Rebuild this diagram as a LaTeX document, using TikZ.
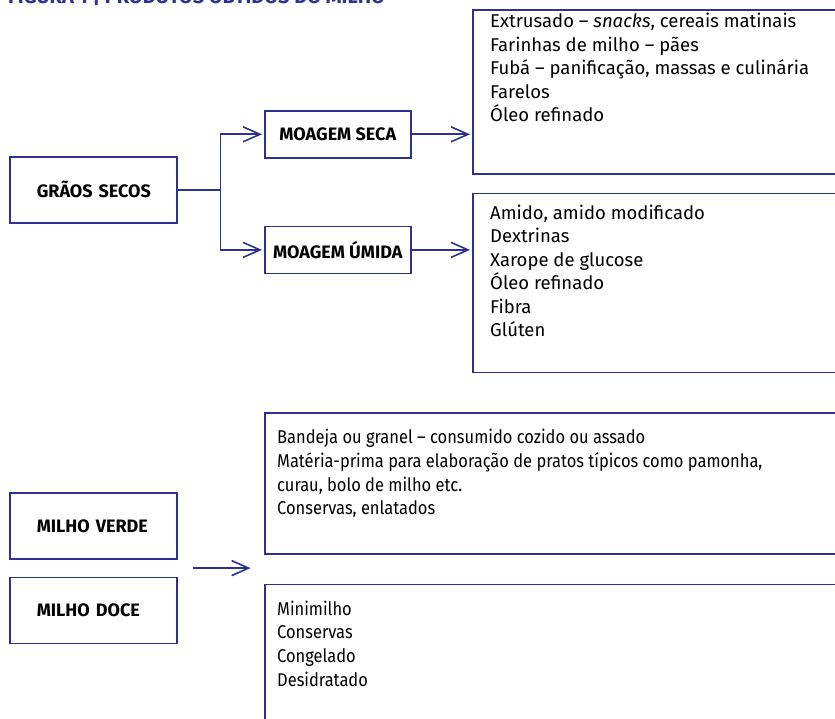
\documentclass[tikz,border=0pt]{standalone}
\usepackage{fontspec}
\setmainfont{Fira Sans}
\newfontfamily\narrowfont{Fira Sans}[FakeStretch=0.89, Ligatures=TeX]
\usetikzlibrary{arrows.meta, positioning, calc}
\definecolor{figblue}{RGB}{46,49,146}

\begin{document}
\begin{tikzpicture}[
  x=1pt, y=-1pt,
  box/.style={draw=figblue, line width=1.6pt, inner sep=0pt, minimum height=66pt, font=\fontsize{18}{21}\selectfont\bfseries},
  srcbox/.style={box, minimum width=167pt, text width=113pt, align=left},
  millbox/.style={box, minimum width=146pt, minimum height=47pt},
  outbox/.style={draw=figblue, line width=1.6pt, inner sep=0pt, minimum width=640pt},
  list/.style={font=\fontsize{18.5}{23.5}\selectfont, align=left, inner sep=0pt, anchor=north west},
  smalllist/.style={list, font=\narrowfont\fontsize{18.5}{23.7}\selectfont},
  arr/.style={draw=figblue, line width=1.6pt, -{Straight Barb[length=17pt, width=15pt, line width=1.6pt]}, shorten >=2pt},
  conn/.style={draw=figblue, line width=1.6pt}
]
  \useasboundingbox (0,0) rectangle (835,719);

  % Title (cut off at the top)
  \node[font=\fontsize{20}{24}\selectfont\bfseries, text=figblue, anchor=base west, inner sep=0pt] (title) at (8,4) {FIGURA 1 | PRODUTOS OBTIDOS DO MILHO};

  % Dry grain
  \node[srcbox, anchor=north west] (graos) at (9,156) {GRÃOS~SECOS};
  \node[millbox, anchor=north west] (seca) at (264,110) {MOAGEM SECA};
  \node[millbox, below=67pt of seca] (umida) {MOAGEM ÚMIDA};

  % Products of the mills
  \node[outbox, minimum height=164pt, anchor=north west] (secaout) at (472,9) {};
  \node[list] (secalist) at ($(secaout.north west)+(18,4)$) {Extrusado – \textit{snacks}, cereais matinais\\Farinhas de milho – pães\\Fubá – panificação, massas e culinária\\Farelos\\Óleo refinado};
  \node[outbox, minimum height=179pt, below=18pt of secaout.south west, anchor=north west] (umidaout) {};
  \node[list] (umidalist) at ($(umidaout.north west)+(18,12)$) {Amido, amido modificado\\Dextrinas\\Xarope de glucose\\Óleo refinado\\Fibra\\Glúten};

  % Fresh corn
  \node[srcbox, anchor=north west] (verde) at (9,492) {MILHO~VERDE};
  \node[srcbox, below=17pt of verde] (doce) {MILHO~DOCE};
  \node[outbox, minimum height=141pt, anchor=north west] (verdeout) at (264,412) {};
  \node[smalllist] (verdelist) at ($(verdeout.north west)+(13,17)$) {Bandeja ou granel – consumido cozido ou assado\\Matéria-prima para elaboração de pratos típicos como pamonha,\\curau, bolo de milho etc.\\Conservas, enlatados};
  \node[outbox, minimum height=160pt, below=29pt of verdeout.south west, anchor=north west] (doceout) {};
  \node[smalllist] (docelist) at ($(doceout.north west)+(13,17)$) {Minimilho\\Conservas\\Congelado\\Desidratado};

  % Arrows
  \draw[conn] (graos.east) -- ++(43,0) coordinate (split);
  \draw[arr] (split) |- (seca.west);
  \draw[arr] (split) |- (umida.west);
  \draw[arr] (seca.east) -- (seca.east -| secaout.west);
  \draw[arr] (umida.east) -- (umida.east -| umidaout.west);
  \coordinate (freshfrom) at ($(verde.south east)!0.5!(doce.north east)+(15,0)$);
  \coordinate (freshto) at ($(freshfrom)+(60,0)$);
  \draw[arr] (freshfrom) -- (freshto);
\end{tikzpicture}
\end{document}
